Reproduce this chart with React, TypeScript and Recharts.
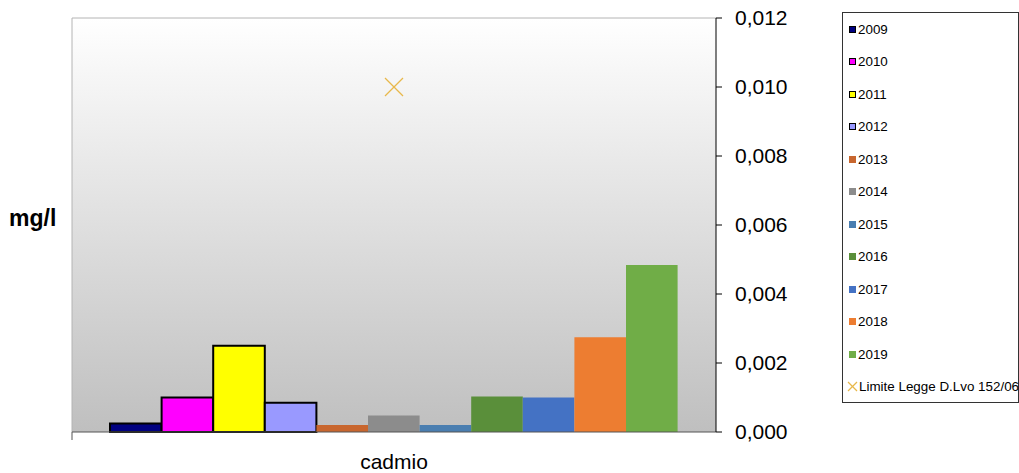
import React from 'react';
import { ComposedChart, Bar, Line, XAxis, YAxis, CartesianGrid } from 'recharts';

const categories = ['cadmio'];
const years = ['2009', '2010', '2011', '2012', '2013', '2014', '2015', '2016', '2017', '2018', '2019'];
// one value per year, mg/l, for the single analyte
const values = [0.00025, 0.001, 0.0025, 0.00085, 0.0002, 0.00048, 0.0002, 0.00103, 0.001, 0.00275, 0.00484];
const colors = ['#000080', '#ff00ff', '#ffff00', '#9999ff', '#c8662e', '#8c8c8c', '#4a7eb0', '#5a8f3a', '#4472c4', '#ed7d31', '#70ad47'];
const outlined = [true, true, true, true, false, false, false, false, false, false, false];
const limite = [0.01];
const limiteLabel = 'Limite Legge D.Lvo 152/06';
const yTicks = [0, 0.002, 0.004, 0.006, 0.008, 0.01, 0.012];

const data = categories.map((name, ci) => {
  const row: Record<string, any> = { name, limite: limite[ci] };
  years.forEach((y, i) => { row[y] = values[i]; });
  return row;
});

const FONT = '"Liberation Sans", Arial, sans-serif';
const fmt = (v: number) => v.toFixed(3).replace('.', ',');

function CrossDot({ cx, cy }: any) {
  if (cx == null || cy == null) return null;
  const s = 9;
  return (
    <g stroke="#e8b84b" strokeWidth={1.3}>
      <line x1={cx - s} y1={cy - s} x2={cx + s} y2={cy + s} />
      <line x1={cx - s} y1={cy + s} x2={cx + s} y2={cy - s} />
    </g>
  );
}

function CategoryTick({ x, y, payload }: any) {
  const half = payload?.offset ?? 0;
  return (
    <g>
      <line x1={x - half} y1={y - 8} x2={x - half} y2={y} stroke="#555" />
      <text x={x} y={y + 14} dy="0.71em" textAnchor="middle" fontSize={21} fill="#000" fontFamily={FONT}>
        {payload.value}
      </text>
    </g>
  );
}

const legendRow: React.CSSProperties = {
  position: 'absolute', display: 'flex', alignItems: 'center', height: 16, whiteSpace: 'nowrap',
};

function LegendBox() {
  return (
    <div style={{
      position: 'absolute', left: 842, top: 12, width: 177, height: 391,
      border: '1px solid #333', boxSizing: 'border-box', background: '#fff',
      fontFamily: FONT, fontSize: 13.4, color: '#000',
    }}>
      {years.map((y, i) => (
        <div key={y} style={{ ...legendRow, left: 6, top: 8 + i * 32.5 }}>
          <span style={{
            width: 7, height: 7, background: colors[i], boxSizing: 'border-box',
            border: outlined[i] ? '1.5px solid #000' : 'none', marginRight: 2,
          }} />
          {y}
        </div>
      ))}
      <div style={{ ...legendRow, left: 4, top: 8 + years.length * 32.5 }}>
        <svg width={11} height={11} style={{ marginRight: 1 }}>
          <line x1={1} y1={1} x2={10} y2={10} stroke="#e8b84b" strokeWidth={1.2} />
          <line x1={1} y1={10} x2={10} y2={1} stroke="#e8b84b" strokeWidth={1.2} />
        </svg>
        {limiteLabel}
      </div>
    </div>
  );
}

export default function App() {
  return (
    <div style={{ position: 'absolute', left: 0, top: 0, width: 1019, height: 473, background: '#fff', overflow: 'hidden' }}>
      <div style={{ position: 'absolute', left: 9, top: 205, fontFamily: FONT, fontWeight: 700, fontSize: 23 }}>mg/l</div>
      <ComposedChart
        width={1019}
        height={473}
        data={data}
        margin={{ top: 18, left: 72, right: 203, bottom: 11 }}
        barSize={51.6}
        barGap={0}
      >
        <defs>
          <linearGradient id="plotBg" x1="0" y1="0" x2="0" y2="1">
            <stop offset="0%" stopColor="#ffffff" />
            <stop offset="100%" stopColor="#bfbfbf" />
          </linearGradient>
        </defs>
        <CartesianGrid
          fill="url(#plotBg)"
          stroke="#b4b4b4"
          horizontalCoordinatesGenerator={({ offset }: any) => [offset.top]}
          verticalCoordinatesGenerator={({ offset }: any) => [offset.left]}
        />
        <XAxis
          dataKey="name"
          height={30}
          axisLine={{ stroke: '#555' }}
          tickLine={false}
          tick={<CategoryTick />}
        />
        <YAxis
          orientation="right"
          width={100}
          domain={[0, 0.012]}
          ticks={yTicks}
          interval={0}
          tickFormatter={fmt}
          tickSize={6}
          tickMargin={13}
          axisLine={{ stroke: '#000' }}
          tickLine={{ stroke: '#000' }}
          tick={{ fontSize: 21, fill: '#000', fontFamily: FONT }}
        />
        {years.map((y, i) => (
          <Bar
            key={y}
            dataKey={y}
            fill={colors[i]}
            stroke={outlined[i] ? '#000' : 'none'}
            strokeWidth={outlined[i] ? 2 : 0}
            isAnimationActive={false}
          />
        ))}
        <Line dataKey="limite" stroke="none" dot={<CrossDot />} activeDot={false} isAnimationActive={false} />
      </ComposedChart>
      <LegendBox />
    </div>
  );
}
